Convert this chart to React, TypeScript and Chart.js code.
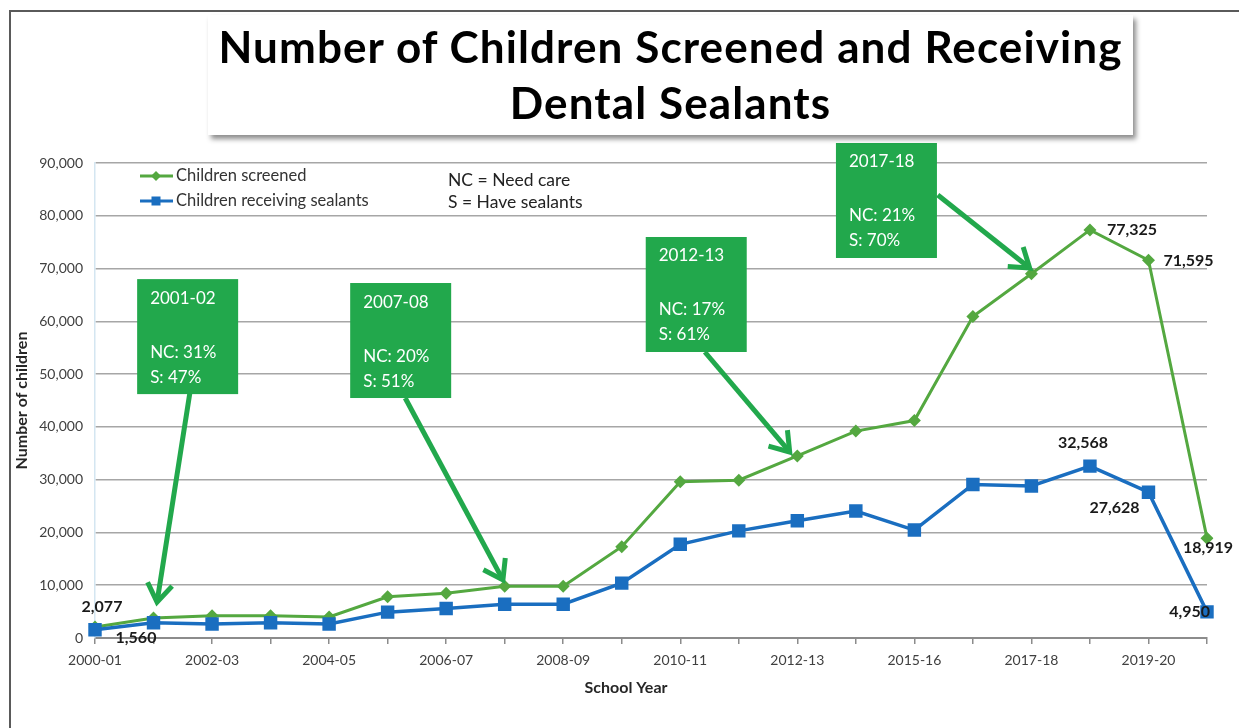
import React, { useEffect, useRef } from 'react';
import { Chart, registerables } from 'chart.js';

Chart.register(...registerables);

const W = 1239;
const H = 728;

// ---- data ----
const categories = [
  '2000-01', '2001-02', '2002-03', '2003-04', '2004-05', '2005-06', '2006-07',
  '2007-08', '2008-09', '2009-10', '2010-11', '2011-12', '2012-13', '2014-15',
  '2015-16', '2016-17', '2017-18', '2018-19', '2019-20', '2020-21',
];
const screened = [
  2077, 3800, 4200, 4200, 4000, 7800, 8500, 9800, 9800, 17300,
  29600, 29900, 34500, 39200, 41200, 60900, 69000, 77325, 71595, 18919,
];
const sealants = [
  1560, 2900, 2650, 2900, 2650, 4900, 5600, 6400, 6400, 10400,
  17750, 20300, 22200, 24050, 20450, 29100, 28800, 32568, 27628, 4950,
];
const seriesNames = ['Children screened', 'Children receiving sealants'];
const yTicks = [0, 10000, 20000, 30000, 40000, 50000, 60000, 70000, 80000, 90000];
const xTitle = 'School Year';
const notes = ['NC = Need care', 'S = Have sealants'];
const calloutYears = ['2001-02', '2007-08', '2012-13', '2017-18'];
const calloutNC = ['NC: 31%', 'NC: 20%', 'NC: 17%', 'NC: 21%'];
const calloutS = ['S: 47%', 'S: 51%', 'S: 61%', 'S: 70%'];
// labelled points: [series (0 screened / 1 sealants), index]
const labelled: [number, number][] = [
  [0, 0], [1, 0], [0, 17], [0, 18], [0, 19], [1, 17], [1, 18], [1, 19],
];

// ---- layout of annotations (data-space anchors) ----
const calloutBoxAnchor = [
  [0.72, 68000], [4.36, 67260], [9.41, 75980], [12.66, 93790],
];
const calloutArrow = [
  [1.62, 46400, 1.06, 6800],
  [5.30, 45470, 6.97, 11000],
  [10.42, 54190, 11.87, 35240],
  [14.40, 83930, 15.97, 70100],
];
// label placement: [dx, dy, align]
const labelPlacement: [number, number, CanvasTextAlign][] = [
  [7, -20, 'center'],
  [41, 8, 'center'],
  [17, 0, 'left'],
  [15, 1, 'left'],
  [-24, 10, 'left'],
  [-7, -23, 'center'],
  [-34, 16, 'center'],
  [3, 0, 'right'],
];

const GREEN_LINE = '#54a840';
const BLUE_LINE = '#1a6ec0';
const BOX_GREEN = '#22a84c';
const FONT = 'Lato, "Open Sans", sans-serif';

function drawArrow(ctx: CanvasRenderingContext2D, x0: number, y0: number, x1: number, y1: number) {
  ctx.save();
  ctx.strokeStyle = BOX_GREEN;
  ctx.lineWidth = 5;
  ctx.lineJoin = 'miter';
  ctx.lineCap = 'butt';
  const a = Math.atan2(y1 - y0, x1 - x0);
  ctx.beginPath();
  ctx.moveTo(x0, y0);
  ctx.lineTo(x1 - 2 * Math.cos(a), y1 - 2 * Math.sin(a));
  ctx.stroke();
  const L = 22;
  const sp = 0.6;
  ctx.beginPath();
  ctx.moveTo(x1 - L * Math.cos(a - sp), y1 - L * Math.sin(a - sp));
  ctx.lineTo(x1, y1);
  ctx.lineTo(x1 - L * Math.cos(a + sp), y1 - L * Math.sin(a + sp));
  ctx.stroke();
  ctx.restore();
}

const overlayPlugin = {
  id: 'overlay',
  afterDatasetsDraw(chart: any) {
    const ctx: CanvasRenderingContext2D = chart.ctx;
    const xs = chart.scales.x;
    const ys = chart.scales.y;
    const area = chart.chartArea;
    const px = (v: number) => xs.left + (v / (categories.length - 1)) * (xs.right - xs.left);
    const py = (v: number) => ys.getPixelForValue(v);

    ctx.save();
    // x axis title (slightly left of centre, as in the original)
    ctx.fillStyle = '#262626';
    ctx.font = `bold 16px ${FONT}`;
    ctx.textAlign = 'center';
    ctx.textBaseline = 'middle';
    ctx.fillText(xTitle, (area.left + area.right) / 2 - 25, area.bottom + 50);

    // callout boxes
    calloutYears.forEach((yr, i) => {
      const [ax, ay] = calloutBoxAnchor[i];
      const bx = px(ax);
      const by = py(ay);
      ctx.fillStyle = BOX_GREEN;
      ctx.fillRect(bx, by, 101, 115);
      ctx.fillStyle = '#ffffff';
      ctx.font = `17px ${FONT}`;
      ctx.textAlign = 'left';
      ctx.textBaseline = 'middle';
      ctx.fillText(yr, bx + 13, by + 19);
      ctx.fillText(calloutNC[i], bx + 13, by + 73);
      ctx.fillText(calloutS[i], bx + 13, by + 98);
    });
    // arrows
    calloutArrow.forEach(([x0, y0, x1, y1]) => {
      drawArrow(ctx, px(x0), py(y0), px(x1), py(y1));
    });

    // legend
    const lx = area.left + 45;
    const lyy = [area.top + 13, area.top + 38];
    [GREEN_LINE, BLUE_LINE].forEach((c, i) => {
      const y = lyy[i];
      ctx.strokeStyle = c;
      ctx.lineWidth = 3;
      ctx.beginPath();
      ctx.moveTo(lx, y);
      ctx.lineTo(lx + 33, y);
      ctx.stroke();
      ctx.fillStyle = c;
      const mx = lx + 16;
      if (i === 0) {
        ctx.beginPath();
        ctx.moveTo(mx, y - 5);
        ctx.lineTo(mx + 5, y);
        ctx.lineTo(mx, y + 5);
        ctx.lineTo(mx - 5, y);
        ctx.closePath();
        ctx.fill();
      } else {
        ctx.fillRect(mx - 4.5, y - 4.5, 9, 9);
      }
      ctx.fillStyle = '#333333';
      ctx.font = `16.5px ${FONT}`;
      ctx.textAlign = 'left';
      ctx.textBaseline = 'middle';
      ctx.fillText(seriesNames[i], lx + 36, y);
    });

    // notes
    ctx.fillStyle = '#222222';
    ctx.font = `17.5px ${FONT}`;
    ctx.textAlign = 'left';
    ctx.textBaseline = 'middle';
    ctx.fillText(notes[0], area.left + 353, area.top + 17);
    ctx.fillText(notes[1], area.left + 353, area.top + 39);

    // data labels
    ctx.font = `bold 16px ${FONT}`;
    ctx.fillStyle = '#1a1a1a';
    labelled.forEach(([s, idx], k) => {
      const meta = chart.getDatasetMeta(s === 0 ? 1 : 0);
      const pt = meta.data[idx];
      const vals = s === 0 ? screened : sealants;
      const [dx, dy, al] = labelPlacement[k];
      ctx.textAlign = al;
      ctx.textBaseline = 'middle';
      ctx.fillText(vals[idx].toLocaleString('en-US'), pt.x + dx, pt.y + dy);
    });
    ctx.restore();
  },
};

export default function App() {
  const ref = useRef<HTMLCanvasElement | null>(null);

  useEffect(() => {
    document.body.style.margin = '0';
    const canvas = ref.current;
    if (!canvas) return;
    const chart = new Chart(canvas, {
      type: 'line',
      data: {
        labels: categories,
        datasets: [
          {
            label: seriesNames[1],
            data: sealants,
            borderColor: BLUE_LINE,
            backgroundColor: BLUE_LINE,
            borderWidth: 3.5,
            pointStyle: 'rect',
            pointRadius: 9.5,
            pointBorderWidth: 0,
            pointBackgroundColor: BLUE_LINE,
            tension: 0,
          },
          {
            label: seriesNames[0],
            data: screened,
            borderColor: GREEN_LINE,
            backgroundColor: GREEN_LINE,
            borderWidth: 3,
            pointStyle: 'rectRot',
            pointRadius: 6.5,
            pointBorderWidth: 0,
            pointBackgroundColor: GREEN_LINE,
            tension: 0,
          },
        ],
      },
      options: {
        animation: false,
        responsive: false,
        devicePixelRatio: 1,
        layout: { padding: { left: 0, right: 32, top: 163, bottom: 0 } },
        plugins: {
          legend: { display: false },
          tooltip: { enabled: false },
        },
        scales: {
          x: {
            type: 'category',
            offset: false,
            grid: {
              drawOnChartArea: false,
              drawTicks: true,
              tickLength: 6,
              tickColor: '#8c8c8c',
              lineWidth: 1.5,
            },
            border: { color: '#8c8c8c', width: 2 },
            ticks: {
              autoSkip: false,
              maxRotation: 0,
              padding: 8,
              color: '#404040',
              font: { family: FONT, size: 14 },
              callback: (_v: any, i: number) => (i % 2 === 0 ? categories[i] : ''),
            },
            title: { display: false },
            afterFit: (s: any) => {
              s.height = 90;
            },
          },
          y: {
            min: 0,
            max: 90000,
            afterBuildTicks: (s: any) => {
              s.ticks = yTicks.map((v) => ({ value: v }));
            },
            ticks: {
              color: '#404040',
              padding: 12,
              font: { family: FONT, size: 14 },
              callback: (v: any) => Number(v).toLocaleString('en-US'),
            },
            grid: { color: '#a6a6a6', lineWidth: 1.5, drawTicks: false },
            border: { color: '#d4e6f1', width: 1.5 },
            title: {
              display: true,
              text: 'Number of children',
              color: '#262626',
              font: { family: FONT, size: 16, weight: 'bold' },
              padding: { top: 12, bottom: 0 },
            },
            afterFit: (s: any) => {
              s.width = 95;
            },
          },
        },
      } as any,
      plugins: [overlayPlugin],
    });
    return () => chart.destroy();
  }, []);

  return (
    <div style={{ position: 'fixed', left: 0, top: 0, width: W, height: H, background: '#ffffff', overflow: 'hidden' }}>
      <canvas ref={ref} width={W} height={H} style={{ position: 'absolute', left: 0, top: 0, width: W, height: H }} />
      <div style={{ position: 'absolute', left: 10, top: 10, right: 0, height: 2, background: '#5a5a5a' }} />
      <div style={{ position: 'absolute', left: 9, top: 10, width: 2, bottom: 0, background: '#5a5a5a' }} />
      <div
        style={{
          position: 'absolute',
          left: 208,
          top: 15,
          width: 925,
          height: 120,
          background: '#ffffff',
          boxShadow: '3px 4px 5px rgba(0,0,0,0.45)',
          fontFamily: FONT,
          fontWeight: 700,
          fontSize: 44,
          letterSpacing: '1.1px',
          lineHeight: '56px',
          textAlign: 'center',
          color: '#000000',
          paddingTop: 3,
          boxSizing: 'border-box',
          whiteSpace: 'nowrap',
        }}
      >
        Number of Children Screened and Receiving
        <br />
        Dental Sealants
      </div>
    </div>
  );
}
